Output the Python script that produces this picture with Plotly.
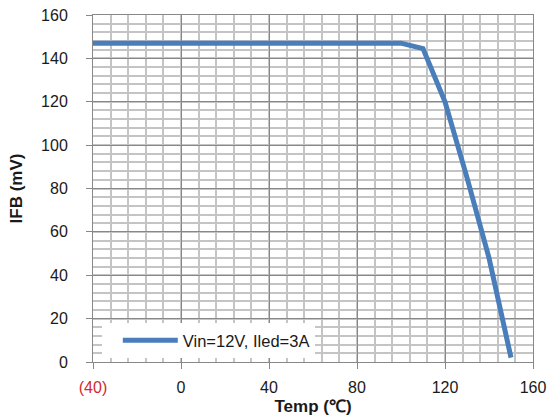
import plotly.graph_objects as go

temp_c = [-40, 100, 110, 120, 130, 140, 150]
ifb_mv = [147, 147, 144.5, 120, 85, 48, 2]
series_name = "Vin=12V, Iled=3A"

x_tickvals = [-40, 0, 40, 80, 120, 160]
x_ticktext = ['<span style="color:#d42a2a">(40)</span>', "0", "40", "80", "120", "160"]
y_tickvals = [0, 20, 40, 60, 80, 100, 120, 140, 160]

font_family = "Liberation Sans, Arial, sans-serif"
minor_grid = "#c4c4c4"
major_grid = "#888888"

fig = go.Figure()
fig.add_trace(go.Scatter(
    x=temp_c, y=ifb_mv, mode="lines", name=series_name,
    line=dict(color="#4a7ebb", width=5),
    showlegend=True,
))

fig.update_layout(
    width=552, height=419,
    margin=dict(l=93, r=19, t=15, b=57),
    paper_bgcolor="white", plot_bgcolor="white",
    font=dict(family=font_family, size=16, color="#1a1a1a"),
    showlegend=True,
    legend=dict(
        x=0.02, y=0.112, xanchor="left", yanchor="top",
        bgcolor="white", borderwidth=0,
        font=dict(size=16.5, family=font_family, color="#1a1a1a"),
        itemwidth=55, indentation=16,
    ),
    xaxis=dict(
        range=[-40, 160], tickvals=x_tickvals, ticktext=x_ticktext,
        showgrid=True, gridcolor=major_grid, gridwidth=1,
        minor=dict(dtick=8, showgrid=True, gridcolor=minor_grid, gridwidth=1.5),
        showline=True, linecolor="#888888", linewidth=1, mirror=True,
        ticks="outside", ticklen=6, tickcolor="#888888",
        zeroline=False, automargin=False,
        tickfont=dict(size=16),
        ticklabelstandoff=5,
        title=dict(text="<b>Temp (℃)</b>", font=dict(size=17), standoff=4),
    ),
    yaxis=dict(
        range=[0, 160], tickvals=y_tickvals,
        showgrid=True, gridcolor=major_grid, gridwidth=1,
        minor=dict(dtick=4, showgrid=True, gridcolor=minor_grid, gridwidth=1.5),
        showline=True, linecolor="#888888", linewidth=1, mirror=True,
        ticks="outside", ticklen=6, tickcolor="#888888",
        zeroline=False, automargin=False,
        tickfont=dict(size=16),
        ticklabelstandoff=15,
        title=dict(text="<b>IFB (mV)</b>", font=dict(size=17), standoff=14),
    ),
)

fig.write_html(
    "out.html",
    config={"displayModeBar": False},
    post_script="document.body.style.margin='0';",
)
